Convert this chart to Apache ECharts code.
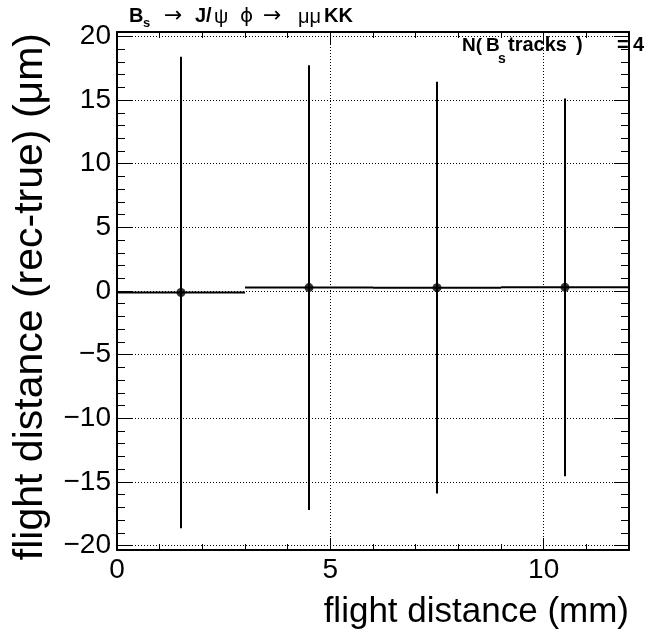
<!DOCTYPE html>
<html><head><meta charset="utf-8">
<script src="https://cdn.jsdelivr.net/npm/echarts@6/dist/echarts.min.js"></script>
<style>html,body{margin:0;padding:0;background:#fff}#c{width:651px;height:629px}</style>
</head><body><div id="c"></div>
<script>
// ---- data ----
const binCenters = [1.5, 4.5, 7.5, 10.5];
const binHalfWidths = [1.5, 1.5, 1.5, 1.5];
const means = [-0.12, 0.27, 0.26, 0.29];
const meanErrors = [18.53, 17.47, 16.18, 14.84];
const xMajorTicks = [0, 5, 10];
const xMinorTicks = [0, 1, 2, 3, 4, 5, 6, 7, 8, 9, 10, 11, 12];
const yMajorTicks = [-20, -15, -10, -5, 0, 5, 10, 15, 20];
const yMinorTicks = [-20, -19, -18, -17, -16, -15, -14, -13, -12, -11, -10, -9, -8, -7, -6, -5, -4, -3, -2, -1, 0,
  1, 2, 3, 4, 5, 6, 7, 8, 9, 10, 11, 12, 13, 14, 15, 16, 17, 18, 19, 20];
const xRange = [0, 12];
const yRange = [-20.35, 20.35];
const xTitle = 'flight distance (mm)';
const yTitle = 'flight distance (rec-true) (\u03bcm)';

const FONT = "'Liberation Sans', Arial, Helvetica, sans-serif";
const SYMFONT = "'DejaVu Sans', 'Liberation Sans', sans-serif";

function makeAxis(position, ticks, tickLen, withLabels, withSplit, withLine, range) {
  return {
    type: 'value', position: position, min: range[0], max: range[1],
    gridIndex: 0,
    axisLine: { show: withLine, onZero: false, lineStyle: { color: '#000', width: 2 } },
    axisTick: { show: true, inside: true, length: tickLen, customValues: ticks, lineStyle: { color: '#000', width: 1 } },
    axisLabel: withLabels ? {
      show: true, customValues: ticks, color: '#000', fontSize: 28, fontFamily: FONT, margin: 6,
      formatter: v => String(v).replace('-', '\u2212')
    } : { show: false },
    splitLine: withSplit ? { show: true, lineStyle: { color: '#000', width: 1, type: [1, 2] } } : { show: false },
    minorTick: { show: false }, minorSplitLine: { show: false }
  };
}

const xAxes = [
  makeAxis('bottom', xMajorTicks, 12, true, true, true, xRange),
  makeAxis('bottom', xMinorTicks, 6, false, false, false, xRange),
  makeAxis('top', xMajorTicks, 12, false, false, true, xRange),
  makeAxis('top', xMinorTicks, 6, false, false, false, xRange)
];
const yAxes = [
  makeAxis('left', yMajorTicks, 15, true, true, true, yRange),
  makeAxis('left', yMinorTicks, 8, false, false, false, yRange),
  makeAxis('right', yMajorTicks, 15, false, false, true, yRange),
  makeAxis('right', yMinorTicks, 8, false, false, false, yRange)
];

const errData = binCenters.map((x, i) => [x, means[i], binHalfWidths[i], meanErrors[i]]);
const pointData = binCenters.map((x, i) => [x, means[i]]);

// text pieces: [text, x, baselineY, size, bold, family]
const titlePieces = [
  ['B', 129, 26, 20, true], ['s', 143, 30, 13, true], ['\u2192', 164, 27, 22, false, SYMFONT],
  ['J/', 195, 26, 20, true], ['\u03c8', 214, 27, 20, false], ['\u03d5', 240, 27, 20, false, SYMFONT],
  ['\u2192', 263, 27, 22, false, SYMFONT], ['\u03bc\u03bc', 298, 27, 20, false], ['KK', 324, 26, 20, true]
];
const nPieces = [
  ['N(', 462, 55, 19, true], ['B', 486, 55, 19, true], ['s', 498, 66, 14, true],
  ['tracks', 508, 55, 20, true], [')', 576, 55, 20, true], ['=', 617, 55, 20, true], ['4', 633, 55, 20, true]
];
function piecesToGraphic(pieces) {
  return pieces.map(p => ({
    type: 'text', x: p[1], y: p[2], z: 100,
    style: { text: p[0], fill: '#000', font: (p[4] ? 'bold ' : '') + p[3] + 'px ' + (p[5] || FONT),
      align: 'left', verticalAlign: 'bottom' }
  }));
}

const chart = echarts.init(document.getElementById('c'), null, { renderer: 'canvas' });
chart.setOption({
  backgroundColor: '#fff',
  animation: false,
  grid: { left: 117, right: 22, top: 32, bottom: 79, containLabel: false },
  xAxis: xAxes,
  yAxis: yAxes,
  series: [
    {
      type: 'custom', xAxisIndex: 0, yAxisIndex: 0, data: errData, clip: true,
      renderItem: function (params, api) {
        const x = api.value(0), y = api.value(1), ex = api.value(2), ey = api.value(3);
        const a = api.coord([x - ex, y]), b = api.coord([x + ex, y]);
        const c = api.coord([x, y - ey]), d = api.coord([x, y + ey]);
        return { type: 'group', children: [
          { type: 'line', shape: { x1: a[0], y1: a[1], x2: b[0], y2: b[1] }, style: { stroke: '#000', lineWidth: 2 } },
          { type: 'line', shape: { x1: c[0], y1: c[1], x2: d[0], y2: d[1] }, style: { stroke: '#000', lineWidth: 2 } }
        ] };
      }
    },
    {
      type: 'scatter', xAxisIndex: 0, yAxisIndex: 0, data: pointData, symbol: 'circle', symbolSize: 9,
      itemStyle: { color: '#000' }, z: 5
    }
  ],
  graphic: [
    ...piecesToGraphic(titlePieces),
    ...piecesToGraphic(nPieces),
    { type: 'text', x: 629, y: 595, style: { text: xTitle, fill: '#000', font: '35px ' + FONT, align: 'right', verticalAlign: 'top' } },
    { type: 'text', x: 31, y: 33, rotation: Math.PI / 2, style: { text: yTitle, fill: '#000', font: '41px ' + FONT, align: 'right', verticalAlign: 'middle' } }
  ]
});
</script></body></html>
